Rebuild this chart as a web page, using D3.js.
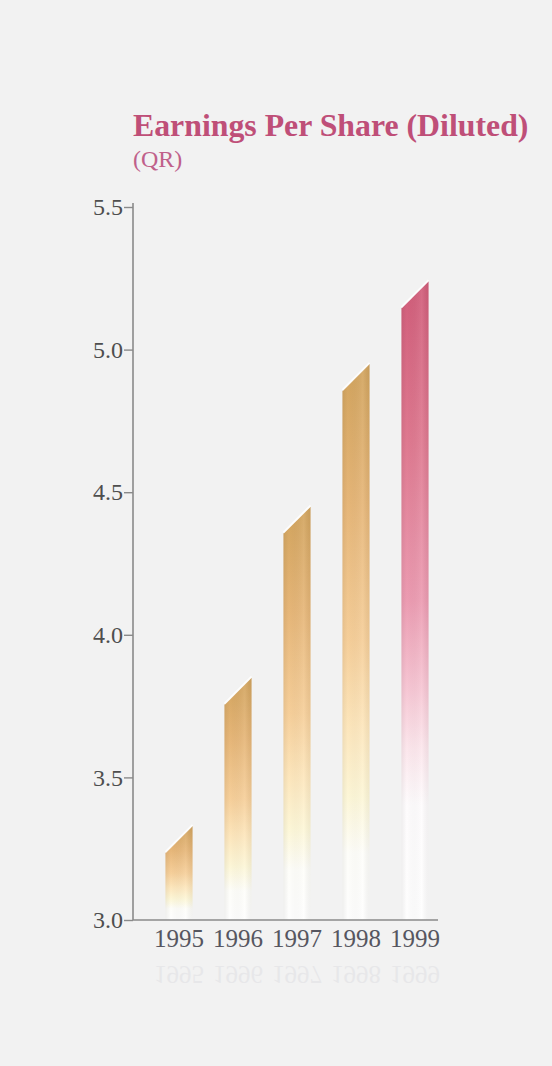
<!DOCTYPE html>
<html>
<head>
<meta charset="utf-8">
<script src="https://cdn.jsdelivr.net/npm/d3@7"></script>
<style>
  html, body { margin: 0; padding: 0; background: #f2f2f2; }
  svg { display: block; }
</style>
</head>
<body>
<svg id="chart" width="552" height="1066"></svg>
<script>
// Earnings per share (diluted), QR
const years = ["1995", "1996", "1997", "1998", "1999"];
const eps = [3.33, 3.85, 4.45, 4.95, 5.24];
const yTicks = [3.0, 3.5, 4.0, 4.5, 5.0, 5.5];
const highlightYear = "1999";
const title = "Earnings Per Share (Diluted)";
const unit = "(QR)";

const svg = d3.select("#chart");
const W = 552, H = 1066;
const serif = "'Liberation Serif', 'Times New Roman', serif";

svg.append("rect").attr("width", W).attr("height", H).attr("fill", "#f2f2f2");

const x = d3.scaleBand()
  .domain(years)
  .range([149.5, 444.5])
  .paddingInner(0.54)
  .paddingOuter(0.27);

const y = d3.scaleLinear()
  .domain([3.0, 5.5])
  .range([920, 207]);

// gradients: colour at the top fading to white near the base
const defs = svg.append("defs");
function grad(id, stops) {
  const g = defs.append("linearGradient")
    .attr("id", id).attr("x1", 0).attr("y1", 0).attr("x2", 0).attr("y2", 1);
  stops.forEach(s => g.append("stop").attr("offset", s[0]).attr("stop-color", s[1]));
}
grad("goldFill", [
  [0, "#d2a45e"], [0.25, "#e6b678"], [0.5, "#f6cf9a"],
  [0.65, "#fde6bc"], [0.78, "#fdf7d8"], [0.88, "#fefefa"], [1, "#fefefe"]
]);
grad("pinkFill", [
  [0, "#d15d7a"], [0.25, "#df7990"], [0.5, "#ec9cb2"],
  [0.63, "#f6c4d2"], [0.73, "#fce6ec"], [0.82, "#fefcfd"], [1, "#fefefe"]
]);
// soft side shading across each bar
const side = defs.append("linearGradient").attr("id", "sideShade")
  .attr("x1", 0).attr("y1", 0).attr("x2", 1).attr("y2", 0);
[[0, "#000", 0.06], [0.2, "#000", 0], [0.75, "#fff", 0.08], [1, "#000", 0.05]]
  .forEach(s => side.append("stop").attr("offset", s[0]).attr("stop-color", s[1]).attr("stop-opacity", s[2]));

// bars with a bevelled top that rises to the right
const bevel = 0.095;
const data = years.map((yr, i) => ({ year: yr, value: eps[i] }));
function barPath(d) {
  const x0 = x(d.year), x1 = x0 + x.bandwidth();
  const yb = y(3.0), yTop = y(d.value), yLeft = y(d.value - bevel);
  return `M${x0},${yb}L${x0},${yLeft}L${x1},${yTop}L${x1},${yb}Z`;
}
const bars = svg.append("g");
bars.selectAll("path.bar")
  .data(data)
  .join("path")
  .attr("class", "bar")
  .attr("d", barPath)
  .attr("fill", d => d.year === highlightYear ? "url(#pinkFill)" : "url(#goldFill)");
bars.selectAll("path.shade")
  .data(data)
  .join("path")
  .attr("class", "shade")
  .attr("d", barPath)
  .attr("fill", "url(#sideShade)");
// light rim along the bevel
bars.selectAll("line.rim")
  .data(data)
  .join("line")
  .attr("class", "rim")
  .attr("x1", d => x(d.year))
  .attr("y1", d => y(d.value - bevel) - 1)
  .attr("x2", d => x(d.year) + x.bandwidth())
  .attr("y2", d => y(d.value) - 1)
  .attr("stroke", "#ffffff")
  .attr("stroke-width", 2)
  .attr("stroke-opacity", 0.8);

// y axis
const yAxis = d3.axisLeft(y)
  .tickValues(yTicks)
  .tickFormat(d3.format(".1f"))
  .tickSize(9)
  .tickPadding(1);
const gy = svg.append("g").attr("transform", "translate(133,0)").call(yAxis);
gy.select(".domain").attr("d", `M0,${y(5.5) - 4}V${y(3.0)}`)
  .attr("stroke", "#8a8a8a").attr("stroke-width", 1.6);
gy.selectAll(".tick line").attr("stroke", "#8a8a8a").attr("stroke-width", 1.4);
gy.selectAll(".tick text")
  .attr("fill", "#4e4e4e")
  .attr("font-family", serif)
  .attr("font-size", 24);

// x axis
const xAxis = d3.axisBottom(x).tickSize(0).tickPadding(9);
const gx = svg.append("g").attr("transform", `translate(0,${y(3.0)})`).call(xAxis);
gx.select(".domain").attr("d", `M133,0H438`)
  .attr("stroke", "#8a8a8a").attr("stroke-width", 1.6);
gx.selectAll(".tick text")
  .attr("fill", "#565660")
  .attr("font-family", serif)
  .attr("font-size", 25);

// faint mirror of the year labels
svg.append("g")
  .attr("transform", `translate(0,${2 * 957})scale(1,-1)`)
  .selectAll("text")
  .data(years)
  .join("text")
  .attr("x", d => x(d) + x.bandwidth() / 2)
  .attr("y", 948)
  .attr("text-anchor", "middle")
  .attr("font-family", serif)
  .attr("font-size", 25)
  .attr("fill", "#8a8aa0")
  .attr("opacity", 0.1)
  .text(d => d);

// titles
svg.append("text")
  .attr("x", 133).attr("y", 136)
  .attr("font-family", serif)
  .attr("font-weight", "bold")
  .attr("font-size", 31.8)
  .attr("fill", "#bf4f78")
  .text(title);
svg.append("text")
  .attr("x", 133).attr("y", 167)
  .attr("font-family", serif)
  .attr("font-size", 24)
  .attr("fill", "#c0608a")
  .text(unit);
</script>
</body>
</html>
